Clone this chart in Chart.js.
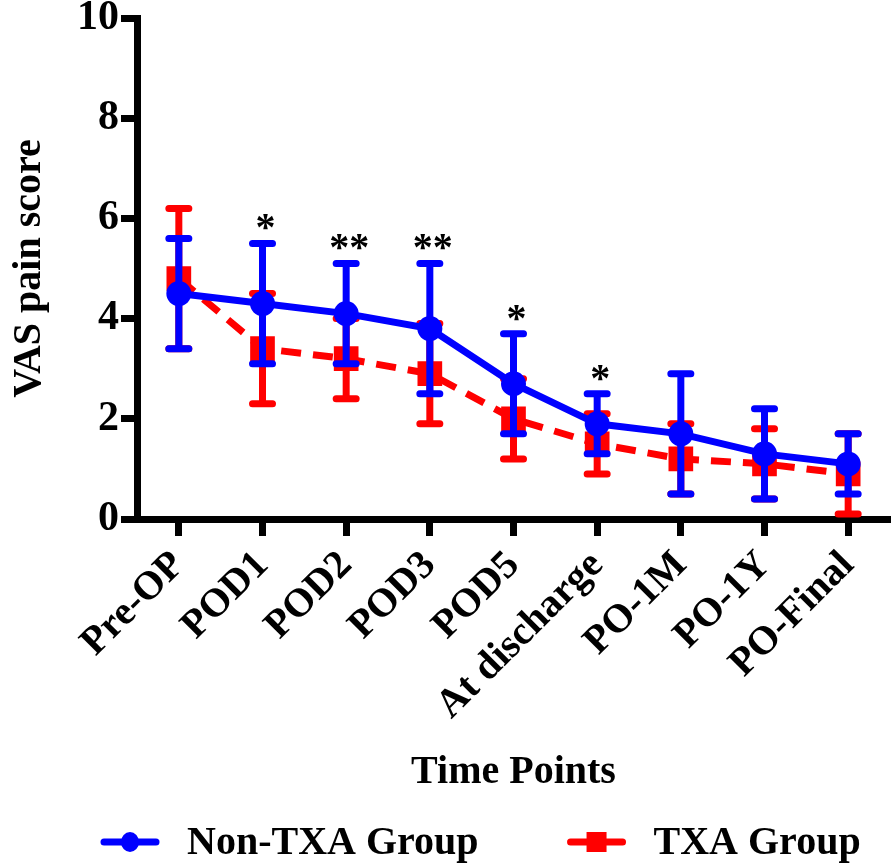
<!DOCTYPE html>
<html>
<head>
<meta charset="utf-8">
<script src="https://cdn.jsdelivr.net/npm/chart.js@4.4.0/dist/chart.umd.min.js"></script>
<style>
  html, body { margin: 0; padding: 0; background: #fff; }
  #wrap { width: 894px; height: 868px; }
</style>
</head>
<body>
<div id="wrap"><canvas id="vasChart" width="894" height="868"></canvas></div>
<script>
// Time points on the x axis
const timePoints = ['Pre-OP', 'POD1', 'POD2', 'POD3', 'POD5', 'At discharge', 'PO-1M', 'PO-1Y', 'PO-Final'];

// Non-TXA group: mean and SD
const nonTxaMean = [4.5, 4.3, 4.1, 3.8, 2.7, 1.9, 1.7, 1.3, 1.1];
const nonTxaSd   = [1.1, 1.2, 1.0, 1.3, 1.0, 0.6, 1.2, 0.9, 0.6];

// TXA group: mean and SD
const txaMean = [4.8, 3.4, 3.2, 2.9, 2.0, 1.5, 1.2, 1.1, 0.9];
const txaSd   = [1.4, 1.1, 0.8, 1.0, 0.8, 0.6, 0.7, 0.7, 0.8];

// significance marks above the Non-TXA bars
const sigMarks = ['', '*', '**', '**', '*', '*', '', '', ''];

const yTicks = [0, 2, 4, 6, 8, 10];

const BLUE = '#0000ff';
const RED = '#ff0000';
const FONT = '"Liberation Serif", "Times New Roman", serif';

// error bars drawn right after each dataset so blue stays on top
const errorBarPlugin = {
  id: 'errorBars',
  afterDatasetDraw(chart, args) {
    const ds = chart.data.datasets[args.index];
    if (!ds.sd) return;
    const ctx = chart.ctx;
    const x = chart.scales.x;
    const y = chart.scales.y;
    ctx.save();
    ctx.strokeStyle = ds.borderColor;
    ctx.lineWidth = 7;
    ctx.lineCap = 'round';
    ds.data.forEach((v, i) => {
      const px = x.getPixelForValue(i);
      const top = y.getPixelForValue(v + ds.sd[i]);
      const bot = y.getPixelForValue(v - ds.sd[i]);
      ctx.beginPath();
      ctx.moveTo(px, top); ctx.lineTo(px, bot);
      ctx.moveTo(px - 10, top); ctx.lineTo(px + 10, top);
      ctx.moveTo(px - 10, bot); ctx.lineTo(px + 10, bot);
      ctx.stroke();
    });
    ctx.restore();
  }
};

const sigPlugin = {
  id: 'sigMarks',
  afterDatasetsDraw(chart) {
    const ctx = chart.ctx;
    const x = chart.scales.x;
    const y = chart.scales.y;
    ctx.save();
    ctx.fillStyle = '#000';
    ctx.font = 'bold 40px ' + FONT;
    ctx.textAlign = 'center';
    ctx.textBaseline = 'alphabetic';
    sigMarks.forEach((m, i) => {
      if (!m) return;
      const px = x.getPixelForValue(i);
      const top = y.getPixelForValue(nonTxaMean[i] + nonTxaSd[i]);
      ctx.fillText(m, px + 3, top - 3);
    });
    ctx.restore();
  }
};

// legend drawn by hand: line + marker, then label
function drawIcon(g, x, y, color, shape) {
  g.strokeStyle = color;
  g.fillStyle = color;
  g.lineWidth = 7;
  g.lineCap = 'round';
  g.beginPath(); g.moveTo(x + 4, y); g.lineTo(x + 56, y); g.stroke();
  if (shape === 'circle') {
    g.beginPath(); g.ellipse(x + 30, y, 9, 10, 0, 0, Math.PI * 2); g.fill();
  } else {
    g.fillRect(x + 20, y - 10, 20, 20);
  }
}

const legendPlugin = {
  id: 'bottomLegend',
  afterDraw(chart) {
    const g = chart.ctx;
    const items = chart.data.datasets;
    const y = 842;
    let x = 100;
    g.save();
    g.font = 'bold 40px ' + FONT;
    g.textBaseline = 'middle';
    g.textAlign = 'left';
    items.forEach((ds) => {
      drawIcon(g, x, y, ds.borderColor, ds.pointStyle);
      x += 87;
      g.fillStyle = '#000';
      g.fillText(ds.label, x, y + 2);
      x += g.measureText(ds.label).width + 88;
    });
    g.restore();
  }
};

const ctx = document.getElementById('vasChart');
new Chart(ctx, {
  type: 'line',
  data: {
    labels: timePoints,
    datasets: [
      {
        label: 'Non-TXA Group',
        data: nonTxaMean,
        sd: nonTxaSd,
        borderColor: BLUE,
        backgroundColor: BLUE,
        borderWidth: 7,
        pointStyle: 'circle',
        pointRadius: 9,
        tension: 0
      },
      {
        label: 'TXA Group',
        data: txaMean,
        sd: txaSd,
        borderColor: RED,
        backgroundColor: RED,
        borderWidth: 7,
        borderDash: [20, 12],
        pointStyle: 'rect',
        pointRadius: 12.5,
        tension: 0
      }
    ]
  },
  options: {
    responsive: false,
    animation: false,
    layout: { autoPadding: false, padding: { top: 18, right: 4, left: 0, bottom: 59 } },
    plugins: {
      legend: { display: false },
      tooltip: { enabled: false }
    },
    scales: {
      x: {
        offset: true,
        grid: {
          display: true,
          drawOnChartArea: false,
          color: '#000',
          tickLength: 17,
          tickWidth: 7,
          offset: false
        },
        border: { display: true, color: '#000', width: 7 },
        ticks: {
          color: '#000',
          font: { family: FONT, size: 40, weight: 'bold' },
          minRotation: 45,
          maxRotation: 45,
          autoSkip: false,
          padding: 6
        },
        title: {
          display: true,
          text: 'Time Points',
          color: '#000',
          font: { family: FONT, size: 40, weight: 'bold' },
          padding: { top: 0, bottom: 12 }
        },
        afterFit(scale) {
          scale.height = 290;
          scale.paddingLeft = 0;
          scale.paddingRight = 0;
        }
      },
      y: {
        min: 0,
        max: 10,
        afterBuildTicks(scale) { scale.ticks = yTicks.map(v => ({ value: v })); },
        grid: {
          display: true,
          drawOnChartArea: false,
          color: '#000',
          tickLength: 16,
          tickWidth: 7
        },
        border: { display: true, color: '#000', width: 7 },
        ticks: {
          color: '#000',
          font: { family: FONT, size: 42, weight: 'bold' },
          padding: 2
        },
        title: {
          display: true,
          text: 'VAS pain score',
          color: '#000',
          font: { family: FONT, size: 40, weight: 'bold' },
          padding: { top: 6, bottom: 0 }
        },
        afterFit(scale) {
          scale.width = 137;
          scale.paddingTop = 0;
          scale.paddingBottom = 0;
        }
      }
    }
  },
  plugins: [errorBarPlugin, sigPlugin, legendPlugin]
});
</script>
</body>
</html>
